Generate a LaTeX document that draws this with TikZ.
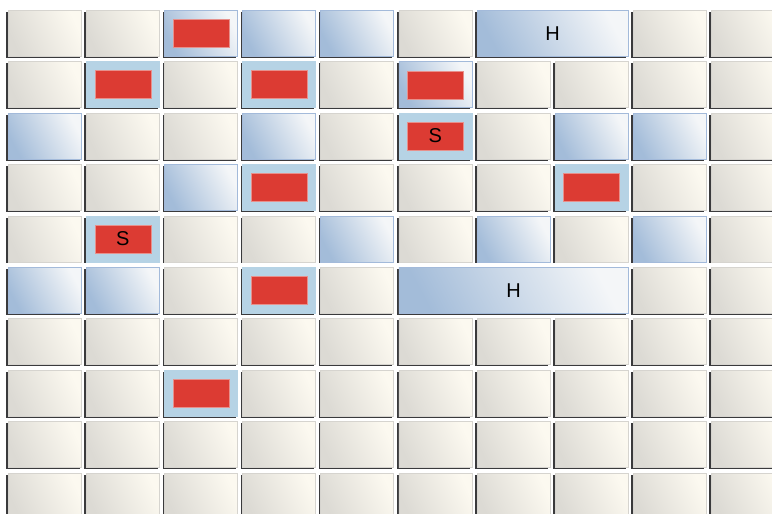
\documentclass[tikz,border=0pt]{standalone}
\usepackage{fontspec}
\setmainfont{Liberation Sans}
\definecolor{plainA}{HTML}{DCDAD4}
\definecolor{plainB}{HTML}{FCF9F0}
\definecolor{plainE}{HTML}{D6D4CF}
\definecolor{blueA}{HTML}{A3BCD9}
\definecolor{blueB}{HTML}{F4F6F8}
\definecolor{blueE}{HTML}{A3BADA}
\definecolor{lightbluec}{HTML}{B6D3E5}
\definecolor{redc}{HTML}{DC3B33}
\definecolor{redE}{HTML}{E7908C}
\definecolor{tshadowc}{HTML}{3A3A3C}
\tikzset{
  plaintile/.style={draw=plainE, line width=0.9pt, left color=plainA, right color=plainB, shading angle=115},
  bluetile/.style={draw=blueE, line width=0.9pt, left color=blueA, right color=blueB, shading angle=118},
  lighttile/.style={draw=lightbluec, line width=0.6pt, fill=lightbluec},
  tshadow/.style={fill=tshadowc},
  redbox/.style={draw=redE, line width=0.7pt, fill=redc, minimum width=56pt, minimum height=28pt, inner sep=0pt, font=\fontsize{20}{24}\selectfont},
  htext/.style={font=\fontsize{20}{24}\selectfont, inner sep=0pt}
}
\newcommand{\tilegeom}[3]{%
  \pgfmathsetmacro{\tx}{8+78.1*(#1-1)}%
  \pgfmathsetmacro{\ty}{10+51.4*(#2-1)}%
  \pgfmathsetmacro{\tw}{73+78.1*(#3-1)}%
}
\newcommand{\tilebase}[2]{%
  \fill[tshadow] (\tx-1.7,\ty+2) rectangle (\tx+\tw-1.5,\ty+47.7);
  \node[#1, minimum width=\tw pt, minimum height=46pt, inner sep=0pt, anchor=north west] (#2) at (\tx,\ty) {};
}
\newcommand{\tilep}[2]{\tilegeom{#1}{#2}{1}\tilebase{plaintile}{t#1-#2}}
\newcommand{\tileb}[2]{\tilegeom{#1}{#2}{1}\tilebase{bluetile}{t#1-#2}}
\newcommand{\tilebr}[2]{\tilegeom{#1}{#2}{1}\tilebase{bluetile}{t#1-#2}\node[redbox] (r#1-#2) at (t#1-#2.center) {};}
\newcommand{\tilelr}[2]{\tilegeom{#1}{#2}{1}\tilebase{lighttile}{t#1-#2}\node[redbox] (r#1-#2) at (t#1-#2.center) {};}
\newcommand{\tilelrS}[2]{\tilegeom{#1}{#2}{1}\tilebase{lighttile}{t#1-#2}\node[redbox] (r#1-#2) at (t#1-#2.center) {S};}
\newcommand{\tileHtwo}[2]{\tilegeom{#1}{#2}{2}\tilebase{bluetile}{t#1-#2}\node[htext] (h#1-#2) at (t#1-#2.center) {H};}
\newcommand{\tileHthree}[2]{\tilegeom{#1}{#2}{3}\tilebase{bluetile}{t#1-#2}\node[htext] (h#1-#2) at (t#1-#2.center) {H};}
\newcommand{\tileX}[2]{}
\begin{document}
\begin{tikzpicture}[x=1pt,y=-1pt]
\fill[white] (0,0) rectangle (772,514);
\useasboundingbox (0,0) rectangle (772,514);
\foreach \r/\rowlist in {
  1/{p,p,br,b,b,p,Htwo,X,p,p},
  2/{p,lr,p,lr,p,br,p,p,p,p},
  3/{b,p,p,b,p,lrS,p,b,b,p},
  4/{p,p,b,lr,p,p,p,lr,p,p},
  5/{p,lrS,p,p,b,p,b,p,b,p},
  6/{b,b,p,lr,p,Hthree,X,X,p,p},
  7/{p,p,p,p,p,p,p,p,p,p},
  8/{p,p,lr,p,p,p,p,p,p,p},
  9/{p,p,p,p,p,p,p,p,p,p},
  10/{p,p,p,p,p,p,p,p,p,p}}{
  \foreach \t [count=\c] in \rowlist {
    \csname tile\t\endcsname{\c}{\r}
  }
}
\end{tikzpicture}
\end{document}
